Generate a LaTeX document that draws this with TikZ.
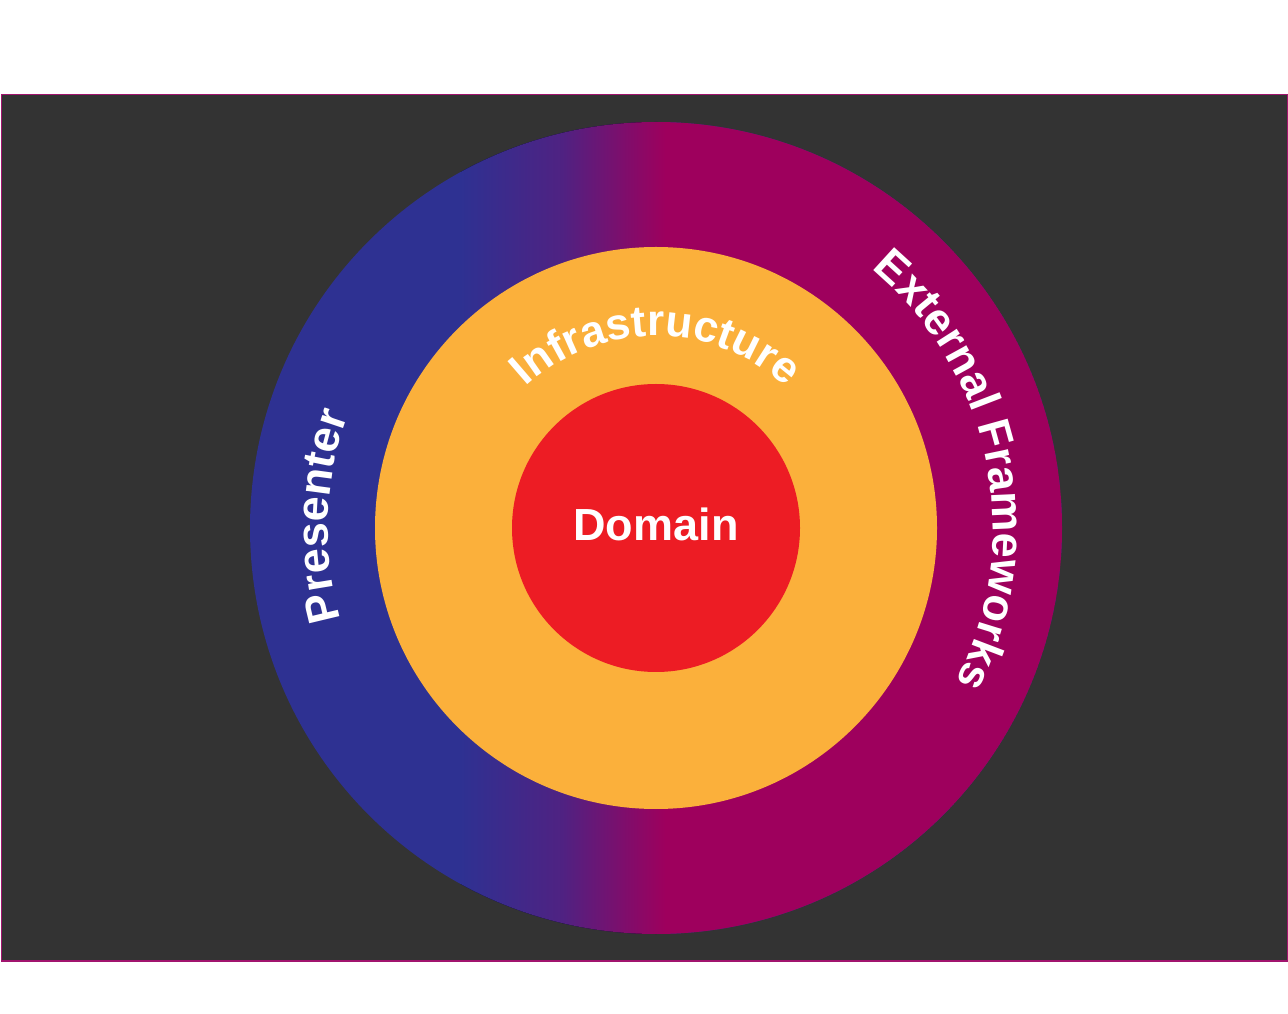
\documentclass[tikz,border=0pt]{standalone}
\usepackage{fontspec}
\setmainfont{Liberation Sans}
\usetikzlibrary{decorations.text}

\definecolor{bgdark}{HTML}{333333}
\definecolor{borderpink}{HTML}{A1146E}
\definecolor{presenterblue}{HTML}{2E3192}
\definecolor{midpurple}{HTML}{4F2282}
\definecolor{frameworkmagenta}{HTML}{9E005D}
\definecolor{infraorange}{HTML}{FBB03B}
\definecolor{domainred}{HTML}{ED1C24}

\newcommand{\ringfont}{\bfseries\fontsize{45}{54}\selectfont}
\newcommand{\infrafont}{\bfseries\fontsize{44}{52}\selectfont}

\begin{document}
\begin{tikzpicture}[
    x=1pt, y=1pt,
    layer/.style={circle, draw=none, inner sep=0pt, outer sep=0pt},
    arclabel/.style={decorate, decoration={text along path, text align=center, text color=white, text={#1}}}
]
\useasboundingbox (0,0) rectangle (1288,1013);
\coordinate (c) at (656,485);

% Background panel
\node[draw=borderpink, line width=1.5pt, fill=bgdark, minimum width=1286pt, minimum height=866pt, inner sep=0pt, anchor=south west] (panel) at (0.75,51.5) {};

% Outer ring with blue to magenta blend
\begin{scope}
  \clip (c) circle[radius=406];
  \fill[presenterblue] (c) circle[radius=406];
  \fill[left color=presenterblue, right color=midpurple] (460,70) rectangle (562.5,900);
  \fill[left color=midpurple, right color=frameworkmagenta] (562,70) rectangle (665.5,900);
  \fill[frameworkmagenta] (665,70) rectangle (1070,900);
\end{scope}

% Inner layers on top
\node[layer, fill=infraorange, minimum size=562pt] (infra) at (c) {};
\node[layer, fill=domainred, minimum size=288pt] (domain) at (c) {};
\node[text=white, font=\bfseries\fontsize{45}{54}\selectfont] (domainlabel) at (656,489) {Domain};

% Curved labels
\path[arclabel={|\ringfont|Presenter}] (c) ++(213:328) arc[start angle=213, end angle=143, radius=328];
\path[arclabel={|\ringfont|External Frameworks}] (c) ++(61:337) arc[start angle=61, end angle=-38, radius=337];
\path[arclabel={|\infrafont|Infrastructure}] (c) ++(160:192) arc[start angle=160, end angle=20, radius=192];

\end{tikzpicture}
\end{document}
